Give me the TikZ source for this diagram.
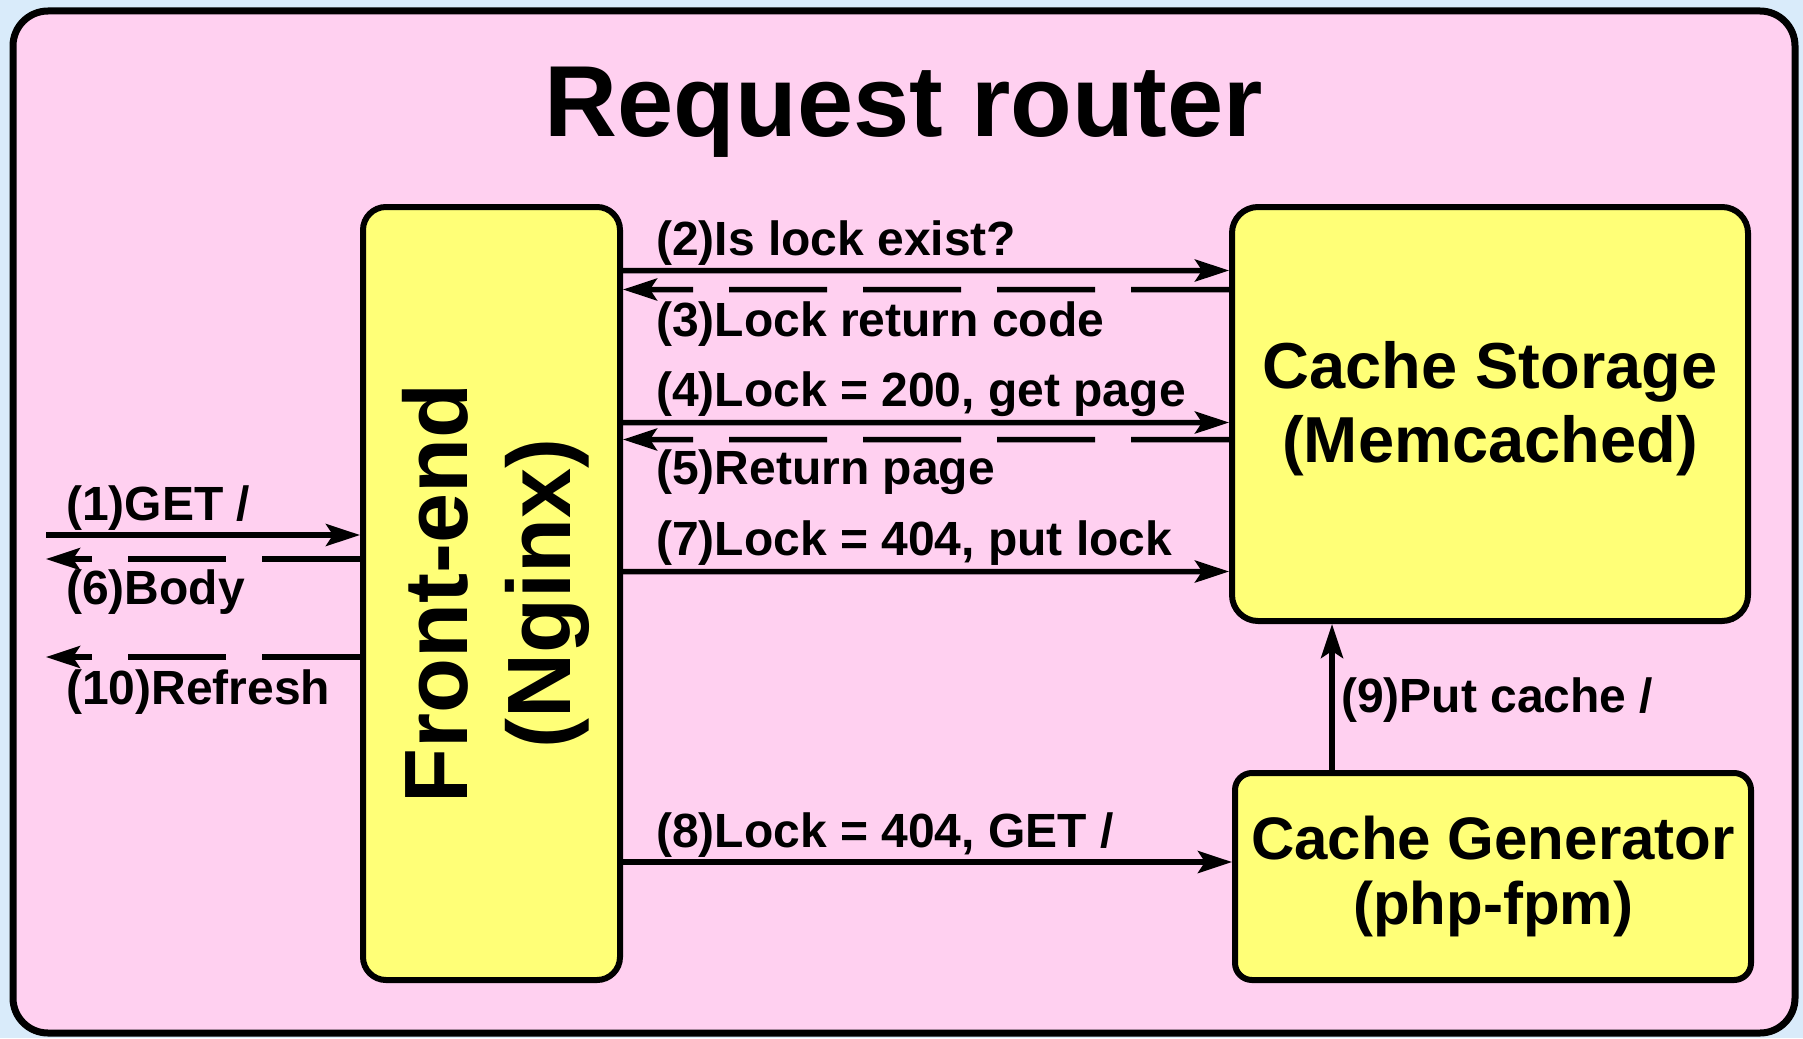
\documentclass[tikz,border=0pt]{standalone}
\usepackage{fontspec}
\setmainfont{Liberation Sans}
\usetikzlibrary{arrows.meta,positioning}
\definecolor{pagesky}{RGB}{217,235,250}
\definecolor{routerpink}{RGB}{255,208,240}
\definecolor{boxyellow}{RGB}{255,255,119}

\begin{document}
\begin{tikzpicture}[x=10pt,y=10pt]
\tikzstyle{every node}+=[inner sep=0pt]
\tikzstyle{box}=[draw=black,line width=6pt,fill=boxyellow]
\tikzstyle{msg}=[anchor=base west,font=\fontsize{48}{50}\selectfont\bfseries]
\tikzstyle{call}=[line width=5.5pt,-{Stealth[length=34pt,width=22pt,inset=7pt]}]
\tikzstyle{reply}=[call,dash pattern=on 98pt off 36pt]
\fill [pagesky] (0,0) rectangle (180.3,-103.8);
\useasboundingbox (0,0) rectangle (180.3,-103.8);
\draw [line width=7pt,fill=routerpink,rounded corners=35pt] (1.3,-1.1) rectangle (179.5,-103.3);
\node [anchor=base,font=\fontsize{101}{104}\selectfont\bfseries] (title) at (90.4,-13.6) {Request router};
% boxes
\node [box,rounded corners=23pt,minimum width=257pt,minimum height=773pt] (fe) at (49.15,-59.35) {};
\node [rotate=90,align=center,font=\fontsize{90}{103}\selectfont\bfseries] (fetext) at ([xshift=4pt]fe.center) {Front-end\\(Nginx)};
\node [box,rounded corners=26pt,minimum width=516pt,minimum height=414pt,align=center,text depth=24pt,
  font=\fontsize{65}{74}\selectfont\bfseries] (cs) at (149,-41.4) {Cache Storage\\(Memcached)};
\node [box,rounded corners=17pt,minimum width=516pt,minimum height=207pt,align=center,
  font=\fontsize{60}{65}\selectfont\bfseries] (gen) at (149.3,-87.65) {Cache Generator\\(php-fpm)};
% client side
\coordinate (client) at (4.6,-53.5);
\coordinate (body) at (4.6,-55.9);
\coordinate (refresh) at (4.6,-65.7);
\draw [call] (client) -- (client -| fe.west);
\draw [reply] (body -| fe.west) -- (body);
\draw [reply] (refresh -| fe.west) -- (refresh);
\node [msg] (l1) at (6.6,-52) {(1)GET /};
\node [msg] (l6) at (6.6,-60.4) {(6)Body};
\node [msg] (l10) at (6.6,-70.4) {(10)Refresh};
% front-end <-> storage
\draw [call] ([yshift=-66.5pt]fe.north east) -- ([yshift=-66.5pt]cs.north west);
\draw [reply] ([yshift=-85.5pt]cs.north west) -- ([yshift=-85.5pt]fe.north east);
\draw [call] ([yshift=-218.5pt]fe.north east) -- ([yshift=-218.5pt]cs.north west);
\draw [reply] ([yshift=-235.5pt]cs.north west) -- ([yshift=-235.5pt]fe.north east);
\draw [call] ([yshift=-367.5pt]fe.north east) -- ([yshift=-367.5pt]cs.north west);
\node [msg] (l2) at (65.6,-25.5) {(2)Is lock exist?};
\node [msg] (l3) at (65.6,-33.6) {(3)Lock return code};
\node [msg] (l4) at (65.6,-40.6) {(4)Lock = 200, get page};
\node [msg] (l5) at (65.6,-48.4) {(5)Return page};
\node [msg] (l7) at (65.6,-55.5) {(7)Lock = 404, put lock};
% generator
\coordinate (genin) at ([yshift=14.5pt]gen.west);
\coordinate (genout) at ([xshift=-161pt]gen.north);
\draw [call] (fe.east |- genin) -- (genin);
\draw [call] (genout) -- (genout |- cs.south);
\node [msg] (l8) at (65.6,-84.7) {(8)Lock = 404, GET /};
\node [msg] (l9) at (134.1,-71.2) {(9)Put cache /};
\end{tikzpicture}
\end{document}
